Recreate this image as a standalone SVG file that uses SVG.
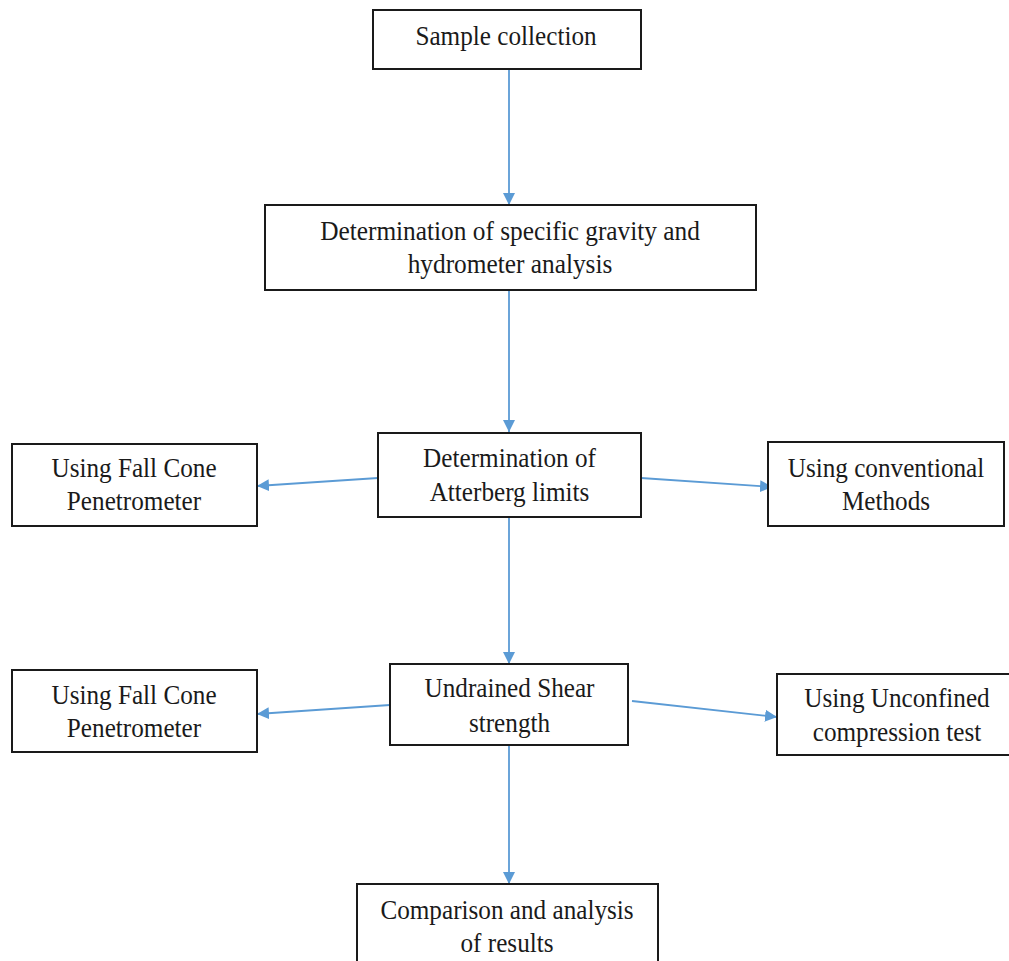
<svg xmlns="http://www.w3.org/2000/svg" width="1009" height="961" viewBox="0 0 1009 961">
<style>
.box{fill:#fff;stroke:#1a1a1a;stroke-width:2}
.t{font-family:"Liberation Serif","Times New Roman",serif;font-size:28px;fill:#1a1a1a;text-anchor:middle}
.c{stroke:#5b9bd5;stroke-width:1.8;fill:none;marker-end:url(#ah)}
</style>
<defs>
<marker id="ah" viewBox="0 0 10 10" refX="10" refY="5" markerWidth="12" markerHeight="12" markerUnits="userSpaceOnUse" orient="auto">
<path d="M0,0 L10,5 L0,10 z" fill="#5b9bd5"/>
</marker>
<clipPath id="clipU"><rect x="391" y="665" width="236" height="78"/></clipPath>
</defs>
<rect width="1009" height="961" fill="#fff"/>
<g id="connectors">
<line class="c" x1="509" y1="70" x2="509" y2="205"/>
<line class="c" x1="509" y1="291" x2="509" y2="432"/>
<line class="c" x1="509" y1="518" x2="509" y2="664"/>
<line class="c" x1="509" y1="745" x2="509" y2="884"/>
<line class="c" x1="378" y1="478" x2="257" y2="486"/>
<line class="c" x1="641" y1="478" x2="772" y2="487"/>
<line class="c" x1="390" y1="705" x2="257" y2="714"/>
<line class="c" x1="632" y1="701" x2="777" y2="717"/>
</g>
<g id="n1">
<rect class="box" x="373" y="10" width="268" height="59"/>
<text class="t" transform="translate(506 45) scale(0.9 1)">Sample collection</text>
</g>
<g id="n2">
<rect class="box" x="265" y="205" width="491" height="85"/>
<text class="t" transform="translate(510 240) scale(0.905 1)">Determination of specific gravity and</text>
<text class="t" transform="translate(510 273) scale(0.905 1)">hydrometer analysis</text>
</g>
<g id="n3">
<rect class="box" x="378" y="433" width="263" height="84"/>
<text class="t" transform="translate(509.5 467) scale(0.9 1)">Determination of</text>
<text class="t" transform="translate(509.5 501) scale(0.9 1)">Atterberg limits</text>
</g>
<g id="n4">
<rect class="box" x="12" y="444" width="245" height="82"/>
<text class="t" transform="translate(134 477) scale(0.9 1)">Using Fall Cone</text>
<text class="t" transform="translate(134 510) scale(0.9 1)">Penetrometer</text>
</g>
<g id="n5">
<rect class="box" x="768" y="442" width="236" height="84"/>
<text class="t" transform="translate(886 477) scale(0.9 1)">Using conventional</text>
<text class="t" transform="translate(886 510) scale(0.9 1)">Methods</text>
</g>
<g id="n6">
<rect class="box" x="390" y="664" width="238" height="81"/>
<g clip-path="url(#clipU)">
<text class="t" transform="translate(509.5 697) scale(0.9 1)">Undrained Shear</text>
<text class="t" transform="translate(509.5 732) scale(0.9 1)">strength</text>
</g>
</g>
<g id="n7">
<rect class="box" x="12" y="670" width="245" height="82"/>
<text class="t" transform="translate(134 704) scale(0.9 1)">Using Fall Cone</text>
<text class="t" transform="translate(134 737) scale(0.9 1)">Penetrometer</text>
</g>
<g id="n8">
<rect class="box" x="777" y="674" width="240" height="81"/>
<text class="t" transform="translate(897 707) scale(0.9 1)">Using Unconfined</text>
<text class="t" transform="translate(897 741) scale(0.9 1)">compression test</text>
</g>
<g id="n9">
<rect class="box" x="357" y="884" width="301" height="90"/>
<text class="t" transform="translate(507 919) scale(0.9 1)">Comparison and analysis</text>
<text class="t" transform="translate(507 952) scale(0.9 1)">of results</text>
</g>
</svg>
